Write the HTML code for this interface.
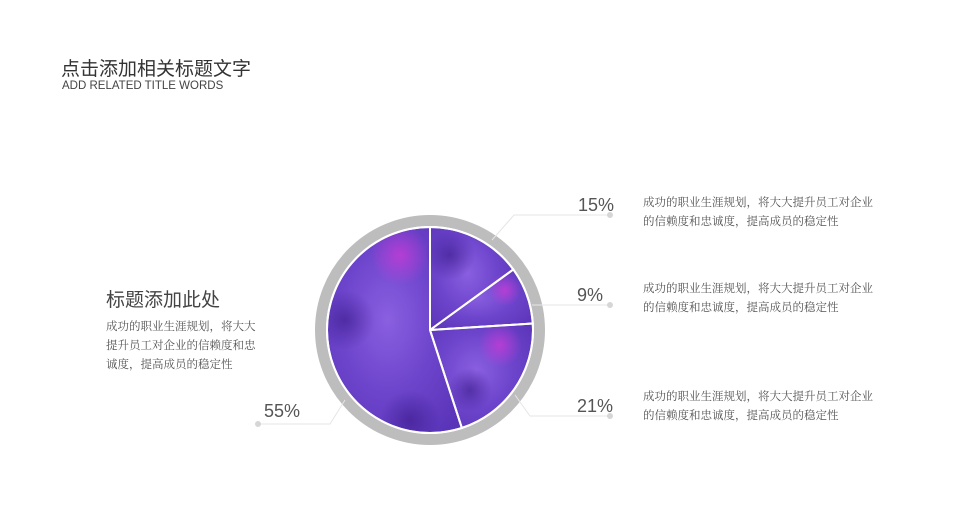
<!DOCTYPE html>
<html><head><meta charset="utf-8"><style>
body{margin:0;background:#fff;width:960px;height:530px;overflow:hidden;position:relative;font-family:"Liberation Sans","Noto Sans CJK SC",sans-serif}
.t{position:absolute;white-space:nowrap;line-height:1}
.desc{position:absolute;font-family:"Liberation Serif","Noto Serif CJK SC",serif;font-size:11.5px;color:#555;line-height:19px}
</style></head><body>
<div class="t" style="left:61px;top:60px;font-size:19px;color:#333">点击添加相关标题文字</div>
<div class="t" style="left:62px;top:81px;font-size:11.5px;color:#444">ADD RELATED TITLE WORDS</div>
<div class="t" style="left:106px;top:291px;font-size:19px;color:#444">标题添加此处</div>
<div class="desc" style="left:106px;top:318px">成功的职业生涯规划，将大大<br>提升员工对企业的信赖度和忠<br>诚度，提高成员的稳定性</div>
<div class="desc" style="left:643px;top:194px">成功的职业生涯规划，将大大提升员工对企业<br>的信赖度和忠诚度，提高成员的稳定性</div>
<div class="desc" style="left:643px;top:280px">成功的职业生涯规划，将大大提升员工对企业<br>的信赖度和忠诚度，提高成员的稳定性</div>
<div class="desc" style="left:643px;top:388px">成功的职业生涯规划，将大大提升员工对企业<br>的信赖度和忠诚度，提高成员的稳定性</div>
<svg id="chart" width="960" height="530" style="position:absolute;left:0;top:0">
<defs>
<radialGradient id="wc" cx="0.45" cy="0.45" r="0.7">
<stop offset="0" stop-color="#8a5fe0"/><stop offset="0.5" stop-color="#6d45cc"/><stop offset="1" stop-color="#5a34b8"/>
</radialGradient>
<radialGradient id="pk1" cx="0.5" cy="0.5" r="0.5"><stop offset="0" stop-color="#d23ad8" stop-opacity="0.7"/><stop offset="1" stop-color="#d23ad8" stop-opacity="0"/></radialGradient>
<radialGradient id="dk1" cx="0.5" cy="0.5" r="0.5"><stop offset="0" stop-color="#3a1a8a" stop-opacity="0.6"/><stop offset="1" stop-color="#3a1a8a" stop-opacity="0"/></radialGradient>
<clipPath id="pieClip"><circle cx="430" cy="330" r="103"/></clipPath>
</defs>
<circle cx="430" cy="330" r="109" fill="none" stroke="#bdbdbd" stroke-width="12"/>
<g id="slices"></g>
<g id="leaders"></g>
</svg>
<script>
const labels=["15%","9%","21%","55%"];
const values=[15,9,21,55];
const cx=430,cy=330,R=103;
const svg=document.getElementById('slices');
const ns="http://www.w3.org/2000/svg";
const total=values.reduce((a,b)=>a+b,0);
let a0=0;
const pt=(a,r)=>[cx+r*Math.sin(a),cy-r*Math.cos(a)];
values.forEach((v,i)=>{
  const a1=a0+v/total*2*Math.PI;
  const p0=pt(a0,R),p1=pt(a1,R);
  const large=(a1-a0)>Math.PI?1:0;
  const p=document.createElementNS(ns,'path');
  p.setAttribute('d',`M${cx},${cy}L${p0[0]},${p0[1]}A${R},${R} 0 ${large} 1 ${p1[0]},${p1[1]}Z`);
  p.setAttribute('fill','url(#wc)');
  p.setAttribute('stroke','#fff');
  p.setAttribute('stroke-width','2');
  
  
  svg.appendChild(p);
  a0=a1;
});
const tex=document.createElementNS(ns,'g');
tex.setAttribute('clip-path','url(#pieClip)');
tex.setAttribute('pointer-events','none');


svg.appendChild(tex);
[[400,255,30,'pk1'],[500,345,22,'pk1'],[505,290,16,'pk1'],[345,320,30,'dk1'],[450,255,25,'dk1'],[410,420,30,'dk1'],[470,390,22,'dk1']].forEach(b=>{
  const c=document.createElementNS(ns,'circle');
  c.setAttribute('cx',b[0]);c.setAttribute('cy',b[1]);c.setAttribute('r',b[2]);c.setAttribute('fill','url(#'+b[3]+')');
  
  
  tex.appendChild(c);
});
a0=0;
values.forEach(v=>{
  const p0=pt(a0,R);
  const l=document.createElementNS(ns,'line');
  l.setAttribute('x1',cx);l.setAttribute('y1',cy);l.setAttribute('x2',p0[0]);l.setAttribute('y2',p0[1]);
  l.setAttribute('stroke','#fff');l.setAttribute('stroke-width','2');
  
  
  svg.appendChild(l);
  a0+=v/total*2*Math.PI;
});
const edge=document.createElementNS(ns,'circle');
edge.setAttribute('cx',cx);edge.setAttribute('cy',cy);edge.setAttribute('r',R);
edge.setAttribute('fill','none');edge.setAttribute('stroke','#fff');edge.setAttribute('stroke-width','2');


svg.appendChild(edge);
const lg=document.getElementById('leaders');
const leaders=[[[492,240],[514,215],[610,215],578,211],[[532,305],[532,305],[610,305],577,301],[[515,395],[530,416],[610,416],577,412],[[345,400],[330,424],[258,424],264,417]];
leaders.forEach((L,i)=>{
  const pl=document.createElementNS(ns,'polyline');
  pl.setAttribute('points',[L[0],L[1],L[2]].map(p=>p.join(',')).join(' '));
  pl.setAttribute('fill','none');pl.setAttribute('stroke','#e6e6e6');pl.setAttribute('stroke-width','1');
  
  
  lg.appendChild(pl);
  const d=document.createElementNS(ns,'circle');
  d.setAttribute('cx',L[2][0]);d.setAttribute('cy',L[2][1]);d.setAttribute('r',3);d.setAttribute('fill','#d6d6d6');
  
  
  lg.appendChild(d);
  const t=document.createElementNS(ns,'text');
  t.setAttribute('x',L[3]);t.setAttribute('y',L[4]);
  t.setAttribute('font-size','18');t.setAttribute('fill','#555');
  t.setAttribute('font-family','"Liberation Sans",sans-serif');
  t.textContent=labels[i];
  
  
  lg.appendChild(t);
});
</script>
</body></html>
